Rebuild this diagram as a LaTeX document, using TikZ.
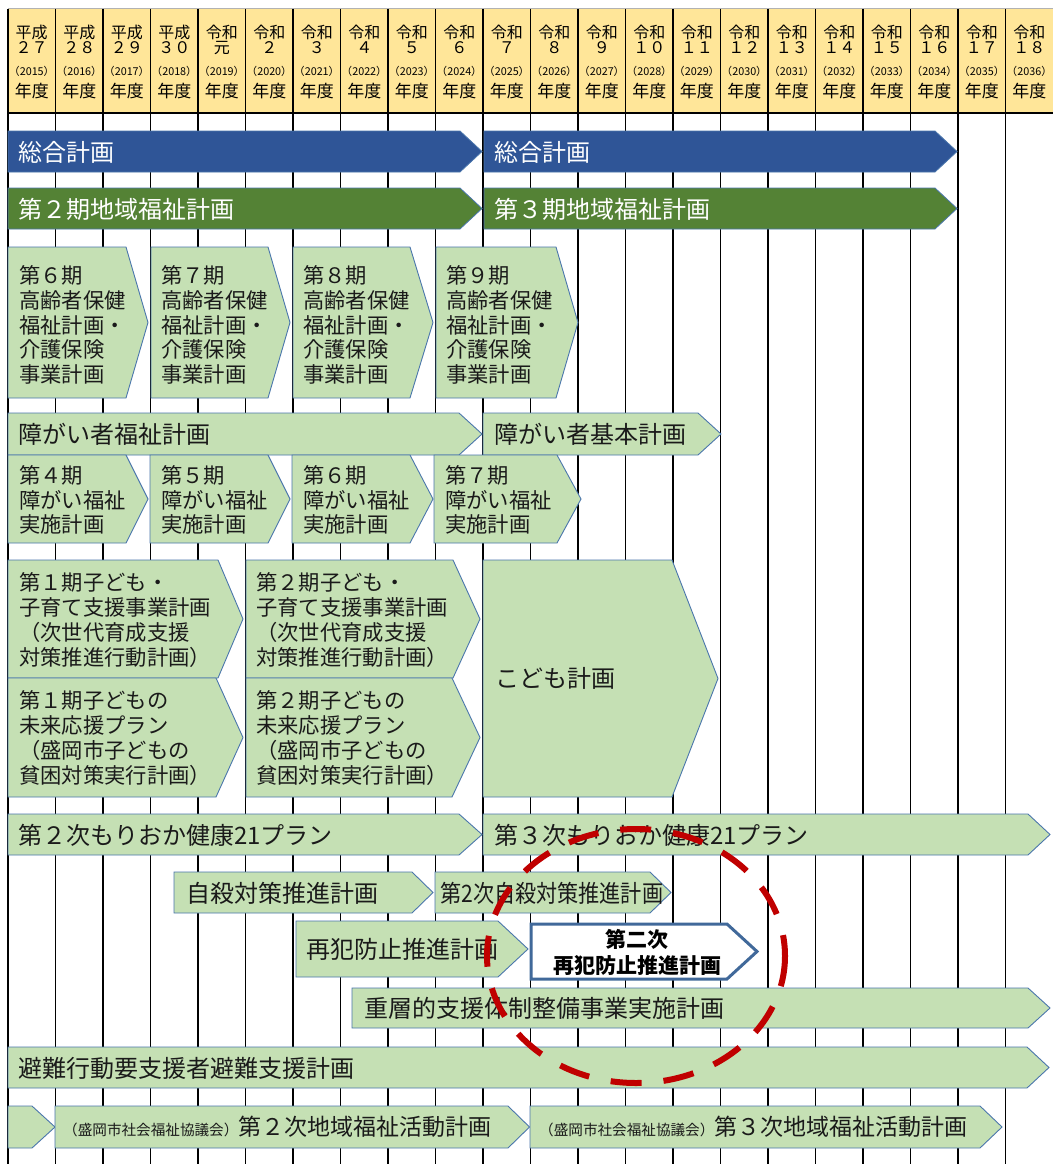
\documentclass[tikz,border=0pt]{standalone}
\usepackage{fontspec}
\setmainfont{Noto Sans CJK JP}
\usepackage{graphicx}
\definecolor{hdr}{HTML}{FFE699}
\definecolor{navy}{HTML}{2F5597}
\definecolor{dgreen}{HTML}{548235}
\definecolor{lgreen}{HTML}{C5E0B4}
\definecolor{edge}{HTML}{4A76AC}
\definecolor{redd}{HTML}{C00000}
\definecolor{txt}{HTML}{1A1A1A}
\definecolor{boxedge}{HTML}{41699A}
\newcommand\planshape[6]{\draw[#1] (#2,#5) -- (#3,#5) -- (#4,{(#5+#6)/2}) -- (#3,#6) -- (#2,#6) -- cycle;}
\newcommand\orgtxt{\fontsize{14.6}{17}\selectfont}
\newcommand\acttxt{\fontsize{23}{27}\selectfont}
\begin{document}
\begin{tikzpicture}[x=1pt,y=-1pt,
  gridline/.style={black, line width=1.2pt},
  bbar/.style={fill=navy, draw=edge, line width=0.8pt},
  gbar/.style={fill=dgreen, draw=edge, line width=0.8pt},
  lbar/.style={fill=lgreen, draw=edge, line width=0.9pt},
  wbox/.style={fill=white, draw=boxedge, line width=3pt},
  hd/.style={inner sep=0pt, font=\fontsize{16}{18}\selectfont},
  yrs/.style={inner sep=0pt, font=\fontsize{10.8}{12}\selectfont},
  nendo/.style={inner sep=0pt, font=\fontsize{17}{19}\selectfont},
  lab/.style={anchor=west, inner sep=0pt, text=txt, font=\fontsize{24}{28}\selectfont},
  wlab/.style={lab, text=white},
  mlab/.style={anchor=west, inner sep=0pt, align=left, text=txt, font=\fontsize{21.3}{24.8}\selectfont}
]
\useasboundingbox (0,0) rectangle (1053,1164);
\fill[white] (0,0) rectangle (1053,1164);
% header
\fill[hdr] (8,9) rectangle (1053,113);
\draw[gray!60, line width=1pt] (8,9) -- (1053,9);
\draw[black, line width=1.2pt] (8,113) -- (1053,113);
\foreach \i in {0,...,21} \draw[gridline] ({8+47.5*\i},9) -- ({8+47.5*\i},1164);
\foreach \era/\num [count=\i from 0] in {平成/２７,平成/２８,平成/２９,平成/３０,令和/元,令和/２,令和/３,令和/４,令和/５,令和/６,令和/７,令和/８,令和/９,令和/１０,令和/１１,令和/１２,令和/１３,令和/１４,令和/１５,令和/１６,令和/１７,令和/１８}{
  \pgfmathsetmacro\cx{31.75+47.5*\i}
  \pgfmathtruncatemacro\yr{2015+\i}
  \node[hd] (era\i) at (\cx,32) {\era};
  \node[hd] (num\i) at (\cx,48) {\num};
  \node[yrs] (yr\i) at (\cx,71) {（\yr）};
  \node[nendo] (nd\i) at (\cx,91) {年度};
}
% row 1
\planshape{bbar}{8}{460}{482}{131}{172}
\planshape{bbar}{484}{935}{957}{131}{172}
\node[wlab] (sogo1) at (18,152) {総合計画};
\node[wlab] (sogo2) at (494,152) {総合計画};
% row 2
\planshape{gbar}{8}{460}{482}{188}{229}
\planshape{gbar}{484}{935}{957}{188}{229}
\node[wlab] (chiiki2) at (18,209) {第２期地域福祉計画};
\node[wlab] (chiiki3) at (494,209) {第３期地域福祉計画};
% row 3 koureisha
\planshape{lbar}{8}{126}{148}{247}{398}
\planshape{lbar}{151}{268}{290}{247}{398}
\planshape{lbar}{293}{410}{433}{247}{398}
\planshape{lbar}{436}{556}{578}{247}{398}
\node[mlab] (kou6) at (19,325) {第６期\\高齢者保健\\福祉計画・\\介護保険\\事業計画};
\node[mlab] (kou7) at (161,325) {第７期\\高齢者保健\\福祉計画・\\介護保険\\事業計画};
\node[mlab] (kou8) at (303,325) {第８期\\高齢者保健\\福祉計画・\\介護保険\\事業計画};
\node[mlab] (kou9) at (446,325) {第９期\\高齢者保健\\福祉計画・\\介護保険\\事業計画};
% row 4
\planshape{lbar}{8}{459}{482}{413}{455}
\planshape{lbar}{483}{698}{721}{413}{455}
\node[lab] (shofuku) at (18,434) {障がい者福祉計画};
\node[lab] (shokihon) at (494,434) {障がい者基本計画};
% row 5
\planshape{lbar}{8}{126}{148}{455}{543}
\planshape{lbar}{150}{268}{290}{455}{543}
\planshape{lbar}{292}{410}{433}{455}{543}
\planshape{lbar}{434}{557}{581}{455}{543}
\node[mlab] (sho4) at (19,500) {第４期\\障がい福祉\\実施計画};
\node[mlab] (sho5) at (161,500) {第５期\\障がい福祉\\実施計画};
\node[mlab] (sho6) at (303,500) {第６期\\障がい福祉\\実施計画};
\node[mlab] (sho7) at (445,500) {第７期\\障がい福祉\\実施計画};
% row 6 kodomo
\planshape{lbar}{8}{218}{243}{560}{678}
\planshape{lbar}{246}{453}{480}{560}{678}
\planshape{lbar}{8}{216}{243}{678}{797}
\planshape{lbar}{246}{452}{480}{678}{797}
\planshape{lbar}{483}{672}{718}{560}{797}
\node[mlab] (ko1a) at (19,620) {第１期子ども・\\子育て支援事業計画\\（次世代育成支援\\対策推進行動計画）};
\node[mlab] (ko2a) at (256,620) {第２期子ども・\\子育て支援事業計画\\（次世代育成支援\\対策推進行動計画）};
\node[mlab] (ko1b) at (19,738) {第１期子どもの\\未来応援プラン\\（盛岡市子どもの\\貧困対策実行計画）};
\node[mlab] (ko2b) at (256,738) {第２期子どもの\\未来応援プラン\\（盛岡市子どもの\\貧困対策実行計画）};
\node[lab] (kodomo) at (495,678) {こども計画};
% row 7
\planshape{lbar}{8}{459}{482}{814}{855}
\planshape{lbar}{483}{1028}{1050}{814}{855}
\node[lab] (kenko2) at (18,835) {第２次もりおか健康21プラン};
\node[lab] (kenko3) at (494,835) {第３次もりおか健康21プラン};
% row 8
\planshape{lbar}{174}{412}{433}{872}{913}
\planshape{lbar}{435}{650}{671}{872}{913}
\node[lab] (jisatsu1) at (186,893) {自殺対策推進計画};
\node[lab] (jisatsu2) at (440,893) {\scalebox{0.88}[1]{第2次自殺対策推進計画}};
% row 9
\planshape{lbar}{296}{498}{528}{921}{977}
\node[lab] (saihan1) at (306,949) {再犯防止推進計画};
\planshape{wbox}{531}{727}{757}{924}{979}
\node[align=center, inner sep=0pt, text=black, font=\bfseries\fontsize{21}{26}\selectfont] (saihan2) at (637,952) {第二次\\再犯防止推進計画};
% row 10
\planshape{lbar}{352}{1028}{1050}{988}{1028}
\node[lab] (jusou) at (364,1008) {重層的支援体制整備事業実施計画};
% row 11
\planshape{lbar}{8}{1027}{1049}{1047}{1088}
\node[lab] (hinan) at (18,1068) {避難行動要支援者避難支援計画};
% row 12
\planshape{lbar}{8}{32}{55}{1106}{1148}
\planshape{lbar}{55}{508}{529.5}{1106}{1148}
\planshape{lbar}{530}{980}{1002}{1106}{1148}
\node[lab] (katsudo2) at (63,1127) {{\orgtxt （盛岡市社会福祉協議会）}{\acttxt 第２次地域福祉活動計画}};
\node[lab] (katsudo3) at (539,1127) {{\orgtxt （盛岡市社会福祉協議会）}{\acttxt 第３次地域福祉活動計画}};
% red dashed ellipse
\draw[redd, line width=6pt, dash pattern=on 31pt off 22pt, dash phase=10pt] (636,956) ellipse [x radius=149pt, y radius=127pt];
\end{tikzpicture}
\end{document}
